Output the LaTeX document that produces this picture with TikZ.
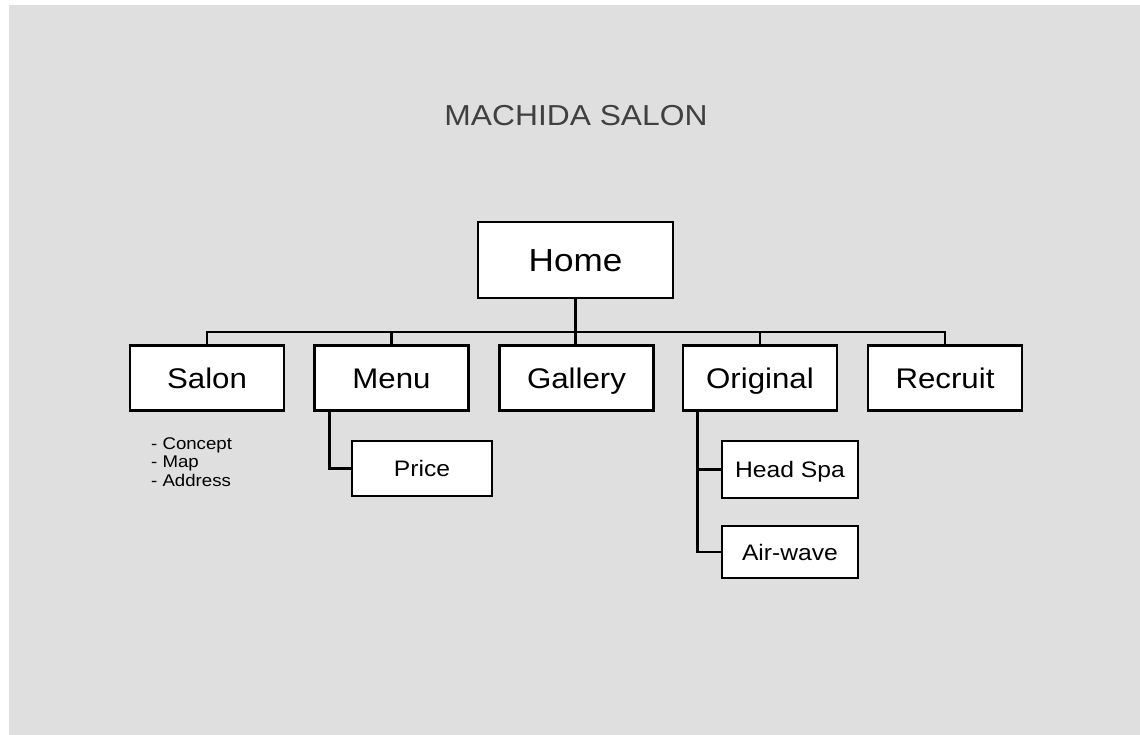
\documentclass[tikz,border=0pt]{standalone}
\usepackage{fontspec}
\setmainfont{Liberation Sans}[FakeStretch=1.1]
\definecolor{bg}{HTML}{DFDFDF}
\definecolor{titlegray}{HTML}{404040}
\begin{document}
\begin{tikzpicture}[x=1bp,y=-1bp,
  box/.style={draw=black, fill=white, line width=2.6bp, inner sep=0pt, text depth=0pt},
  top/.style={box, minimum width=195bp, minimum height=76bp, text height=22.9bp, font=\fontsize{32}{36}\selectfont},
  lvl/.style={box, minimum width=154bp, minimum height=65bp, text height=20.4bp, font=\fontsize{28.5}{32}\selectfont},
  sub/.style={box, minimum width=138bp, minimum height=55bp, text height=16.1bp, font=\fontsize{22.5}{26}\selectfont},
  link/.style={draw=black, line width=2.8bp},
  note/.style={font=\fontsize{17}{19}\selectfont, align=left, inner sep=0pt, anchor=north west}]
\useasboundingbox (0,0) rectangle (1140,735);
\fill[white] (0,0) rectangle (1140,735);
\fill[bg] (9,5) rectangle (1140,735);

\node[text=titlegray, font=\fontsize{29}{32}\selectfont, text height=20.8bp, text depth=0pt, inner sep=0pt] (title) at (576,115) {MACHIDA SALON};

\node[top] (home) at (575.5,260) {Home};
\node[lvl] (salon) at (207,378) {Salon};
\node[lvl] (menu) at (391.5,378) {Menu};
\node[lvl] (gallery) at (576.5,378) {Gallery};
\node[lvl] (original) at (760,378) {Original};
\node[lvl] (recruit) at (945,378) {Recruit};
\node[sub, minimum width=140bp] (price) at (422,468.5) {Price};
\node[sub, minimum width=136bp, minimum height=57bp] (headspa) at (790,469.5) {Head Spa};
\node[sub, minimum width=136bp, minimum height=52bp] (airwave) at (790,552) {Air-wave};

\node[note] (notes) at (151,437) {- Concept\\- Map\\- Address};

\coordinate (bus) at (576,332);
\draw[link] (home.south) -- (home.south |- gallery.north);
\draw[link] (salon.north) -- (salon.north |- bus) -- (recruit.north |- bus) -- (recruit.north);
\draw[link] (menu.north) -- (menu.north |- bus);
\draw[link] (original.north) -- (original.north |- bus);
\draw[link] ([xshift=16bp]menu.south west) |- (price.west);
\draw[link] ([xshift=16bp]original.south west) |- (airwave.west);
\draw[link] ([xshift=16bp]original.south west |- headspa.west) -- (headspa.west);
\end{tikzpicture}
\end{document}
